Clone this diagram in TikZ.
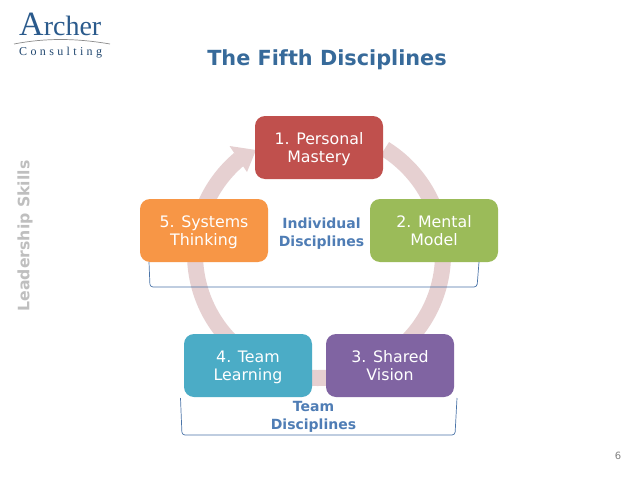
\documentclass[tikz,border=0pt]{standalone}
\usepackage{fontspec}
\setmainfont{DejaVu Sans}
\newfontfamily\logofont{Liberation Serif}
\definecolor{cRed}{HTML}{C0504D}
\definecolor{cGreen}{HTML}{9BBB59}
\definecolor{cPurple}{HTML}{8064A2}
\definecolor{cTeal}{HTML}{4BACC6}
\definecolor{cOrange}{HTML}{F79646}
\definecolor{cRing}{HTML}{E6D0D1}
\definecolor{cTitle}{HTML}{376A9A}
\definecolor{cLabel}{HTML}{4F7DB5}
\definecolor{cBracket}{HTML}{4A74A8}
\definecolor{cLogo}{HTML}{2A5A8C}
\newcommand{\twolines}[2]{\rule{0pt}{16pt}#1\\#2\rule[-4pt]{0pt}{4pt}}
\tikzset{
  disc/.style={rounded corners=10pt,minimum width=128pt,minimum height=63pt,inner sep=0pt,text=white,align=center,
    font=\fontsize{15.8}{18}\selectfont},
  lab/.style={text=cLabel,align=center,inner sep=0pt,font=\bfseries\fontsize{14}{18}\selectfont},
  brk/.style={draw=cBracket,line width=0.7pt,rounded corners=3pt}
}
\begin{document}
\begin{tikzpicture}[x=1pt,y=-1pt]
\useasboundingbox (0,0) rectangle (638,479);
\fill[white] (0,0) rectangle (638,479);
% ring
\coordinate (c) at (319,254);
\draw[cRing,line width=16pt] (c)+(-58:124) arc[start angle=-58,end angle=230,radius=124];
\fill[cRing] (229.5,146) -- (256,150) -- (247,172) -- cycle;
% nodes
\node[disc,fill=cRed] (n1) at (319,147.5) {\twolines{1. Personal}{Mastery}};
\node[disc,fill=cGreen] (n2) at (434,230.5) {\twolines{2. Mental}{Model}};
\node[disc,fill=cPurple] (n3) at (390,365.5) {\twolines{3. Shared}{Vision}};
\node[disc,fill=cTeal] (n4) at (248,365.5) {\twolines{4. Team}{Learning}};
\node[disc,fill=cOrange] (n5) at (204,230.5) {\twolines{5. Systems}{Thinking}};
% labels
\node[lab] (ind) at (321.5,234) {Individual\\Disciplines};
\node[lab] (team) at (313.5,416.5) {Team\\Disciplines};
% brackets
\coordinate (a1) at (149,262); \coordinate (a2) at (150,287); \coordinate (a3) at (477,287); \coordinate (a4) at (479,262);
\draw[brk] (a1) -- (a2) -- (a3) -- (a4);
\coordinate (b1) at (180.5,398); \coordinate (b2) at (182,435); \coordinate (b3) at (455,435); \coordinate (b4) at (457,398);
\draw[brk] (b1) -- (b2) -- (b3) -- (b4);
% title etc.
\node[text=cTitle,font=\bfseries\fontsize{20.8}{24}\selectfont,inner sep=0pt] (title) at (327,60) {The Fifth Disciplines};
\node[text=black!25,font=\bfseries\fontsize{15.7}{18}\selectfont,inner sep=0pt,rotate=90] (side) at (25,236) {Leadership Skills};
\node[text=black!50,font=\fontsize{10}{12}\selectfont,inner sep=0pt] (pg) at (618,456) {6};
% logo
\node[text=cLogo,font=\logofont\fontsize{34}{34}\selectfont,inner sep=0pt,anchor=base west] (arch) at (19,35) {A\fontsize{28}{28}\selectfont rcher};
\draw[black!45,line width=0.7pt] (14,44) .. controls (45,38) and (75,38) .. (110,44);
\node[text=cLogo!80!black,font=\logofont\fontsize{12}{12}\selectfont\addfontfeature{LetterSpace=28},inner sep=0pt,anchor=base west] (cons) at (19,55) {Consulting};
\end{tikzpicture}
\end{document}
